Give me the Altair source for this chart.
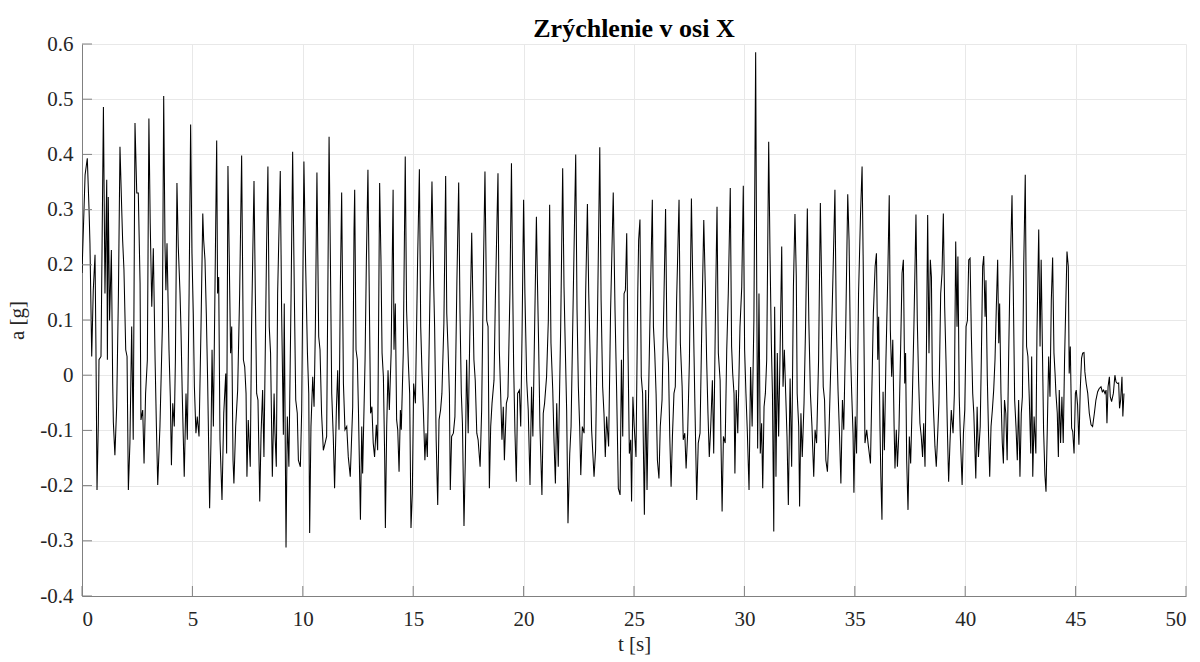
import altair as alt
import pandas as pd

# Signal: (time [s], acceleration [g]) vertices
seg1 = [(0, 0.185), (0.14, 0.363), (0.24, 0.393), (0.32, 0.299), (0.36, 0.239), (0.44, 0.034), (0.51, 0.154),
        (0.59, 0.218), (0.63, 0.058), (0.68, -0.208), (0.74, -0.087), (0.77, 0.028), (0.86, 0.034), (0.97, 0.486),
        (1.04, 0.148), (1.12, 0.354), (1.15, 0.028), (1.19, 0.323), (1.25, 0.099), (1.33, 0.227), (1.39, -0.015),
        (1.42, -0.085), (1.49, -0.145), (1.57, -0.057), (1.65, 0.148), (1.72, 0.414), (1.80, 0.299), (1.84, 0.245),
        (1.90, 0.191), (1.98, 0.046), (2.04, 0.034), (2.10, -0.208), (2.17, -0.123), (2.25, 0.088), (2.32, -0.117),
        (2.40, 0.457), (2.48, 0.330), (2.55, 0.330), (2.63, 0.166), (2.67, -0.081), (2.75, -0.063), (2.81, -0.160),
        (2.88, -0.033), (2.96, 0.028), (3.03, 0.465), (3.09, 0.275), (3.16, 0.124), (3.23, 0.230), (3.31, 0.028),
        (3.37, -0.093), (3.43, -0.199), (3.53, -0.093), (3.64, 0.088), (3.70, 0.506), (3.76, 0.233), (3.80, 0.154),
        (3.85, 0.239), (3.94, 0.046), (4.00, -0.039), (4.05, -0.163), (4.11, -0.051), (4.18, -0.093), (4.23, 0.028),
        (4.30, 0.348), (4.36, 0.233), (4.44, 0.148), (4.48, 0.088), (4.54, -0.033), (4.63, -0.184), (4.71, -0.033),
        (4.77, -0.117), (4.85, 0.148), (4.92, 0.454), (4.98, 0.221), (5.04, 0.112), (5.09, -0.021), (5.16, -0.105),
        (5.22, -0.075), (5.30, -0.111), (5.39, 0.088), (5.47, 0.293), (5.51, 0.245), (5.57, 0.209), (5.63, 0.112),
        (5.69, -0.009), (5.78, -0.241), (5.84, -0.123), (5.89, 0.046), (5.95, -0.093), (6.02, 0.148), (6.10, 0.425),
        (6.14, 0.148), (6.19, 0.178), (6.25, -0.117), (6.34, -0.226), (6.42, -0.069), (6.51, 0.003), (6.55, -0.142),
        (6.61, 0.379), (6.67, 0.209), (6.73, 0.040), (6.78, 0.088), (6.84, -0.154), (6.88, -0.196), (6.96, -0.093),
        (7.05, -0.027), (7.14, 0.148), (7.23, 0.398), (7.31, 0.028), (7.37, 0.015), (7.43, -0.033), (7.47, -0.184),
        (7.53, -0.081), (7.62, -0.166), (7.68, 0.088), (7.79, 0.352), (7.85, 0.148), (7.91, -0.033), (7.97, -0.045),
        (8.05, -0.229), (8.11, -0.105), (8.18, -0.027), (8.24, -0.148), (8.36, 0.233), (8.42, 0.378), (8.48, 0.088),
        (8.54, 0.040), (8.62, -0.184), (8.70, -0.033), (8.74, -0.105), (8.80, -0.166), (8.86, 0.148), (8.98, 0.370),
        (9.04, 0.118), (9.12, -0.108), (9.16, 0.130), (9.24, -0.312), (9.30, -0.075), (9.37, -0.166), (9.47, 0.148),
        (9.54, 0.405), (9.62, 0.136), (9.68, -0.045), (9.75, -0.069), (9.80, -0.154), (9.89, -0.166), (9.95, -0.063),
        (10.05, 0.387), (10.13, 0.197), (10.21, 0.040), (10.27, -0.033), (10.31, -0.286), (10.37, -0.093),
        (10.45, -0.003), (10.51, -0.057), (10.57, 0.088), (10.64, 0.367), (10.72, 0.070), (10.78, 0.046),
        (10.85, -0.069), (10.93, -0.136), (11.01, -0.123), (11.08, -0.111), (11.19, 0.432), (11.25, 0.209),
        (11.31, -0.033), (11.38, -0.111), (11.44, -0.205), (11.52, -0.063), (11.58, 0.009), (11.64, -0.099),
        (11.70, 0.160), (11.76, 0.331), (11.84, -0.015), (11.91, -0.099), (11.99, -0.093), (12.06, -0.148),
        (12.15, -0.184)]

seg2 = [(12.26, -0.057), (12.32, 0.263), (12.35, 0.336), (12.41, 0.046), (12.47, 0.028), (12.52, -0.063),
        (12.61, -0.262), (12.67, -0.093), (12.71, -0.178), (12.82, 0.028), (12.88, 0.209), (12.95, 0.372),
        (13.01, 0.148), (13.07, -0.069), (13.13, -0.057), (13.19, -0.123), (13.25, -0.148), (13.33, -0.090),
        (13.39, -0.136), (13.48, 0.348), (13.54, 0.209), (13.59, 0.040), (13.65, -0.003), (13.71, -0.154),
        (13.74, -0.277), (13.80, -0.093), (13.86, 0.009), (13.92, -0.063), (14.00, 0.040), (14.09, 0.336),
        (14.13, 0.046), (14.19, 0.130), (14.25, -0.081), (14.30, -0.099), (14.36, -0.175), (14.42, -0.063),
        (14.46, -0.099), (14.55, 0.040), (14.64, 0.396), (14.70, 0.118), (14.78, 0.022), (14.84, -0.033),
        (14.90, -0.277), (14.96, -0.214), (15.02, -0.015), (15.10, -0.051), (15.20, 0.209), (15.28, 0.373),
        (15.34, 0.088), (15.40, 0.003), (15.46, -0.063), (15.53, -0.154), (15.58, -0.105), (15.64, -0.148),
        (15.76, 0.148), (15.85, 0.351), (15.93, 0.160), (15.97, 0.088), (16.04, -0.117), (16.11, -0.235),
        (16.17, -0.081), (16.24, -0.063), (16.30, -0.033), (16.39, 0.094), (16.47, 0.361), (16.52, 0.112),
        (16.58, 0.046), (16.64, -0.033), (16.68, -0.208), (16.74, -0.111), (16.82, -0.105), (16.89, -0.075),
        (16.98, 0.172), (17.06, 0.349), (17.12, 0.112), (17.18, -0.033), (17.23, -0.087), (17.30, -0.273),
        (17.36, -0.154), (17.42, 0.028), (17.49, -0.105), (17.57, 0.088), (17.65, 0.258), (17.71, 0.118),
        (17.75, 0.028), (17.81, -0.009), (17.88, -0.105), (17.94, -0.117), (18.03, -0.166), (18.10, -0.063),
        (18.18, 0.191), (18.25, 0.369), (18.33, 0.099), (18.39, 0.088), (18.45, -0.205), (18.51, -0.093),
        (18.57, -0.051), (18.66, -0.009), (18.72, 0.136), (18.84, 0.366), (18.90, 0.046), (18.96, -0.033),
        (19.02, -0.117), (19.08, -0.057), (19.13, -0.154), (19.22, -0.051), (19.29, -0.039), (19.38, 0.148),
        (19.45, 0.384), (19.51, 0.148), (19.55, 0.015), (19.61, -0.105), (19.67, -0.193), (19.73, -0.033),
        (19.81, -0.027), (19.87, -0.093), (19.93, 0.076), (20.00, 0.318), (20.06, 0.148), (20.14, -0.009),
        (20.21, -0.063), (20.29, -0.199), (20.36, -0.021), (20.42, -0.111), (20.50, 0.088), (20.58, 0.287),
        (20.62, 0.185), (20.68, 0.058), (20.74, -0.093), (20.83, -0.217), (20.89, -0.069), (20.95, -0.051),
        (21.04, -0.003), (21.12, 0.099), (21.18, 0.309), (21.24, 0.058), (21.32, -0.027), (21.38, -0.123),
        (21.44, -0.196), (21.50, -0.051), (21.57, -0.166), (21.68, 0.088), (21.77, 0.375), (21.83, 0.160),
        (21.89, 0.046), (21.95, -0.063), (22.01, -0.268), (22.09, -0.142), (22.15, -0.093), (22.25, 0.148),
        (22.36, 0.400), (22.42, 0.118), (22.48, -0.021), (22.54, -0.093), (22.59, -0.181), (22.66, -0.093),
        (22.74, -0.105), (22.81, 0.148), (22.89, 0.310), (22.95, 0.148), (23.01, 0.040), (23.08, -0.099),
        (23.19, -0.184), (23.26, -0.136), (23.34, 0.088), (23.45, 0.413), (23.51, 0.136), (23.58, -0.021),
        (23.64, -0.069), (23.70, -0.148), (23.76, -0.075), (23.85, -0.129), (23.94, 0.118), (24.06, 0.331),
        (24.14, 0.118), (24.21, -0.021), (24.29, -0.205)]

seg3 = [(24.37, -0.217), (24.43, 0.028), (24.49, -0.111), (24.55, 0.148), (24.61, 0.154), (24.67, 0.257),
        (24.73, 0.040), (24.79, -0.142), (24.85, -0.117), (24.89, -0.229), (24.95, -0.039), (25.01, -0.093),
        (25.09, -0.148), (25.17, 0.148), (25.21, 0.245), (25.27, 0.282), (25.33, -0.003), (25.39, -0.033),
        (25.47, -0.253), (25.53, -0.027), (25.59, -0.208), (25.66, -0.033), (25.74, 0.136), (25.83, 0.318),
        (25.88, 0.088), (25.94, 0.040), (26.00, -0.033), (26.06, -0.154), (26.13, -0.187), (26.19, -0.093),
        (26.27, -0.045), (26.36, 0.148), (26.43, 0.301), (26.49, 0.070), (26.56, 0.022), (26.62, -0.111),
        (26.68, -0.202), (26.74, -0.111), (26.81, -0.033), (26.87, -0.021), (26.93, 0.136), (27.04, 0.318),
        (27.10, 0.058), (27.18, -0.021), (27.23, -0.117), (27.30, -0.105), (27.36, -0.169), (27.43, -0.105),
        (27.51, 0.028), (27.60, 0.320), (27.66, 0.172), (27.72, 0.034), (27.76, -0.057), (27.84, -0.226),
        (27.91, -0.123), (27.99, -0.105), (28.07, 0.088), (28.16, 0.281), (28.23, 0.160), (28.29, 0.028),
        (28.35, -0.069), (28.41, -0.148), (28.47, -0.099), (28.55, -0.009), (28.61, -0.142), (28.70, 0.148),
        (28.76, 0.305), (28.82, 0.040), (28.90, -0.009), (28.94, -0.123), (28.99, -0.247), (29.05, -0.111),
        (29.13, -0.123), (29.20, 0.046), (29.27, 0.148), (29.36, 0.339), (29.42, 0.052), (29.47, 0.003),
        (29.53, -0.033), (29.57, -0.178), (29.63, -0.027), (29.70, -0.105), (29.80, 0.088), (29.88, 0.160),
        (29.95, 0.343), (30.01, 0.046), (30.07, -0.033), (30.13, -0.099), (30.21, -0.208), (30.28, 0.015),
        (30.35, -0.093), (30.43, 0.099), (30.51, 0.585), (30.56, 0.148), (30.60, -0.133), (30.66, 0.148),
        (30.72, -0.142), (30.78, -0.087), (30.83, -0.205), (30.89, -0.057), (30.95, -0.033), (31.01, 0.028),
        (31.10, 0.423), (31.16, 0.221), (31.22, 0.058), (31.27, -0.033), (31.33, -0.283), (31.37, 0.124),
        (31.43, -0.184), (31.49, 0.040), (31.55, -0.111), (31.61, 0.028), (31.69, 0.233), (31.75, -0.021),
        (31.81, 0.046), (31.87, -0.033), (31.93, -0.111), (31.99, -0.235), (32.07, -0.006), (32.14, -0.166),
        (32.22, 0.160), (32.29, 0.292), (32.35, 0.178), (32.39, -0.033), (32.46, -0.093), (32.50, -0.238),
        (32.56, -0.069), (32.62, -0.148), (32.70, -0.051), (32.77, 0.088), (32.85, 0.302), (32.92, 0.094),
        (32.99, -0.033), (33.06, -0.093), (33.14, -0.184), (33.20, -0.099), (33.27, -0.123), (33.36, 0.028),
        (33.44, 0.312), (33.50, 0.160), (33.57, -0.021), (33.63, -0.045), (33.69, -0.154), (33.76, -0.175),
        (33.83, -0.105), (33.92, 0.028), (34.01, 0.178), (34.10, 0.336), (34.16, 0.099), (34.24, -0.027),
        (34.31, -0.111), (34.37, -0.196), (34.44, -0.045), (34.50, -0.099), (34.59, 0.088), (34.68, 0.328),
        (34.74, 0.245), (34.80, 0.052), (34.86, -0.033), (34.92, -0.105), (34.96, -0.213), (35.02, -0.075),
        (35.08, -0.142), (35.17, 0.148), (35.26, 0.293), (35.33, 0.378), (35.39, 0.172), (35.46, -0.123),
        (35.54, -0.099), (35.60, -0.123), (35.71, -0.160), (35.77, -0.033), (35.84, 0.112), (35.92, 0.197),
        (35.98, 0.221)]

seg4 = [(36.04, 0.028), (36.08, 0.106), (36.14, -0.093), (36.18, -0.184), (36.23, -0.262), (36.28, -0.030),
        (36.34, -0.136), (36.41, 0.028), (36.49, 0.172), (36.56, 0.326), (36.61, 0.082), (36.67, -0.003),
        (36.72, 0.064), (36.78, -0.093), (36.82, -0.169), (36.88, -0.099), (36.93, -0.166), (37.00, -0.099),
        (37.08, 0.058), (37.14, 0.185), (37.20, 0.209), (37.26, -0.015), (37.30, 0.040), (37.35, -0.154),
        (37.41, -0.244), (37.47, -0.111), (37.53, -0.160), (37.61, -0.033), (37.68, 0.094), (37.77, 0.291),
        (37.83, 0.099), (37.89, -0.009), (37.95, -0.087), (38.01, -0.111), (38.07, -0.148), (38.12, -0.087),
        (38.18, -0.166), (38.24, 0.028), (38.30, 0.290), (38.36, 0.040), (38.42, 0.209), (38.47, 0.178),
        (38.51, -0.003), (38.57, -0.069), (38.63, -0.129), (38.69, -0.166), (38.75, -0.111), (38.81, -0.051),
        (38.89, 0.148), (38.95, 0.185), (39.01, 0.293), (39.07, 0.124), (39.13, 0.028), (39.19, -0.093),
        (39.25, -0.193), (39.31, -0.123), (39.37, -0.063), (39.45, -0.105), (39.51, -0.033), (39.57, 0.242),
        (39.63, 0.088), (39.67, 0.215), (39.73, -0.039), (39.78, -0.111), (39.86, -0.199), (39.92, -0.105),
        (39.98, -0.063), (40.04, 0.088), (40.10, 0.099), (40.16, 0.209), (40.22, 0.212), (40.28, 0.070),
        (40.34, -0.033), (40.39, -0.069), (40.48, -0.187), (40.54, -0.057), (40.60, -0.148), (40.68, -0.093),
        (40.73, 0.028), (40.79, 0.197), (40.84, 0.216), (40.90, 0.106), (40.94, 0.172), (41.00, -0.003),
        (41.06, -0.111), (41.11, -0.184), (41.17, -0.093), (41.23, -0.063), (41.29, -0.027), (41.35, 0.028),
        (41.41, 0.124), (41.47, 0.209), (41.52, 0.058), (41.56, 0.130), (41.62, -0.033), (41.68, -0.123),
        (41.73, -0.160), (41.78, -0.045), (41.84, -0.069), (41.90, -0.154), (41.97, 0.040), (42.02, 0.160),
        (42.12, 0.326), (42.18, 0.148), (42.24, -0.045), (42.30, -0.093), (42.36, -0.154), (42.42, -0.045),
        (42.48, -0.184), (42.54, -0.069), (42.59, -0.039), (42.65, 0.197), (42.72, 0.363), (42.78, 0.052),
        (42.84, 0.034), (42.90, -0.039), (42.97, -0.142), (43.01, 0.034), (43.06, -0.184), (43.12, -0.075),
        (43.20, -0.142), (43.25, 0.076), (43.33, 0.264), (43.39, 0.052), (43.44, 0.209), (43.50, 0.040),
        (43.55, -0.099), (43.61, -0.181), (43.66, -0.211), (43.72, -0.093), (43.78, 0.034), (43.84, -0.039),
        (43.90, 0.136), (43.96, 0.213), (44.02, 0.040), (44.07, 0.003), (44.11, -0.033), (44.17, -0.069),
        (44.22, -0.148), (44.26, -0.027), (44.32, -0.123), (44.38, -0.039), (44.44, -0.123), (44.50, 0.028),
        (44.55, 0.118), (44.61, 0.224), (44.67, 0.197), (44.71, 0.003), (44.76, 0.052), (44.82, -0.096),
        (44.87, -0.102), (44.93, -0.142), (44.99, -0.033), (45.03, -0.027), (45.09, -0.054), (45.15, -0.126),
        (45.21, -0.027), (45.27, 0.031), (45.32, 0.040), (45.38, 0.041), (45.42, 0.006), (45.48, -0.015),
        (45.55, -0.033), (45.62, -0.069), (45.70, -0.090), (45.77, -0.093), (45.85, -0.069), (45.92, -0.045),
        (46.00, -0.030), (46.07, -0.024), (46.15, -0.021), (46.21, -0.030), (46.27, -0.027), (46.33, -0.033),
        (46.38, -0.027), (46.42, -0.087), (46.47, -0.021), (46.53, -0.003), (46.57, -0.039), (46.63, -0.048),
        (46.71, -0.033), (46.78, 0.000), (46.83, -0.012), (46.89, -0.015), (46.95, -0.014), (46.99, -0.060),
        (47.04, -0.045), (47.10, -0.003), (47.14, -0.075), (47.19, -0.033)]

x_ticks = [0, 5, 10, 15, 20, 25, 30, 35, 40, 45, 50]
y_ticks = [-0.4, -0.3, -0.2, -0.1, 0, 0.1, 0.2, 0.3, 0.4, 0.5, 0.6]

title_text = "Zrýchlenie v osi X"
x_title = "t [s]"
y_title = "a [g]"

points = seg1 + seg2 + seg3 + seg4
df = pd.DataFrame({"t": [p[0] for p in points], "a": [p[1] for p in points]})

W, H = 1104, 552
FONT = "Liberation Serif"

xscale = alt.Scale(domain=[0, 50], nice=False, zero=False)
yscale = alt.Scale(domain=[-0.4, 0.6], nice=False, zero=False)

label_expr = "datum.value == 0 ? '0' : replace(format(datum.value, '.1f'), '\u2212', '-')"

line = alt.Chart(df).mark_line(color="black", strokeWidth=1.05, clip=True).encode(
    x=alt.X("t:Q", scale=xscale,
            axis=alt.Axis(values=x_ticks, title=x_title, grid=True, tickSize=0, labelPadding=12,
                          titlePadding=4, format="d")),
    y=alt.Y("a:Q", scale=yscale,
            axis=alt.Axis(values=y_ticks, title=y_title, grid=True, tickSize=0, labelPadding=9,
                          titlePadding=12, labelExpr=label_expr)),
)

xt = alt.Chart(pd.DataFrame({"v": x_ticks})).mark_rule(color="#808080", strokeWidth=1).encode(
    x=alt.X("v:Q", scale=xscale), y=alt.value(H), y2=alt.value(H - 10))
yt = alt.Chart(pd.DataFrame({"v": y_ticks})).mark_rule(color="#808080", strokeWidth=1).encode(
    y=alt.Y("v:Q", scale=yscale), x=alt.value(0), x2=alt.value(10))

chart = alt.layer(line, xt, yt).properties(
    width=W, height=H,
    background="white",
    title=alt.TitleParams(title_text, font=FONT, fontSize=26, fontWeight="bold", color="black",
                          anchor="middle", offset=-9),
    autosize=alt.AutoSizeParams(type="none"),
    padding={"left": 82, "top": 44, "right": 14, "bottom": 66},
).configure_view(stroke=None).configure_axis(
    domainColor="#808080", domainWidth=1, gridColor="#e8e8e8", gridWidth=1,
    labelFont=FONT, labelFontSize=21, labelColor="#262626",
    titleFont=FONT, titleFontSize=21, titleFontWeight="normal", titleColor="#262626",
)

chart.save("out.html", embed_options={"renderer": "svg", "actions": False})
